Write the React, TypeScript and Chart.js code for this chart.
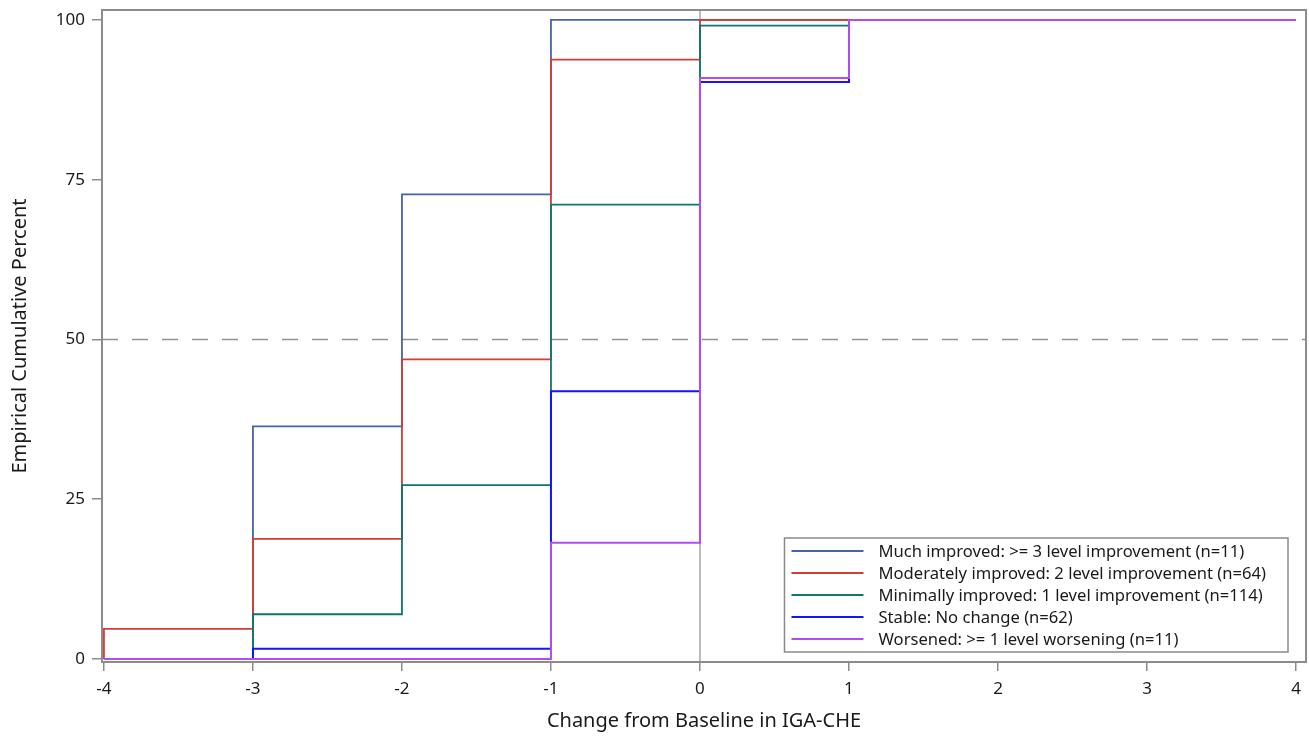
import React, { useEffect, useRef } from "react";
import { Chart, registerables } from "chart.js";

Chart.register(...registerables);

// ---- data ----
const changeValues = [-4, -3, -2, -1, 0, 1, 2, 3, 4];
const seriesLabels = [
  "Much improved: >= 3 level improvement (n=11)",
  "Moderately improved: 2 level improvement (n=64)",
  "Minimally improved: 1 level improvement (n=114)",
  "Stable: No change (n=62)",
  "Worsened: >= 1 level worsening (n=11)",
];
const muchImproved = [0, 36.4, 72.7, 100, 100, 100, 100, 100, 100];
const moderatelyImproved = [4.7, 18.8, 46.9, 93.8, 100, 100, 100, 100, 100];
const minimallyImproved = [0, 7.0, 27.2, 71.1, 99.1, 100, 100, 100, 100];
const stableNoChange = [0, 1.6, 1.6, 41.9, 90.3, 100, 100, 100, 100];
const worsenedSeries = [0, 0, 0, 18.2, 90.9, 100, 100, 100, 100];
const ecdfStart = 0;
const xTickValues = [-4, -3, -2, -1, 0, 1, 2, 3, 4];
const yTickValues = [0, 25, 50, 75, 100];
const referencePercent = 50;
const referenceChange = 0;
const xTitle = "Change from Baseline in IGA-CHE";
const yTitle = "Empirical Cumulative Percent";

const seriesColors = ["#4862ab", "#d23d36", "#0a786a", "#1414ff", "#b04cf2"];
const FONT = "'Noto Sans', 'DejaVu Sans', sans-serif";
const AXIS_GRAY = "#8c8c8c";

const allSeries = [muchImproved, moderatelyImproved, minimallyImproved, stableNoChange, worsenedSeries];

const framePlugin = {
  id: "frameAndRefs",
  beforeDatasetsDraw(chart: any) {
    const { ctx, chartArea, scales } = chart;
    ctx.save();
    const x0 = scales.x.getPixelForValue(referenceChange);
    ctx.strokeStyle = "#a6a6a6";
    ctx.lineWidth = 1.5;
    ctx.beginPath();
    ctx.moveTo(x0, chartArea.top);
    ctx.lineTo(x0, chartArea.bottom);
    ctx.stroke();
    const y50 = scales.y.getPixelForValue(referencePercent);
    ctx.strokeStyle = "#8e9494";
    ctx.setLineDash([16, 14]);
    ctx.beginPath();
    ctx.moveTo(chartArea.left, y50);
    ctx.lineTo(chartArea.right, y50);
    ctx.stroke();
    ctx.setLineDash([]);
    ctx.restore();
  },
  afterDraw(chart: any) {
    const { ctx, chartArea } = chart;
    ctx.save();
    ctx.strokeStyle = AXIS_GRAY;
    ctx.lineWidth = 2;
    ctx.strokeRect(chartArea.left, chartArea.top, chartArea.right - chartArea.left, chartArea.bottom - chartArea.top);

    ctx.font = `16.6px ${FONT}`;
    const datasets = chart.data.datasets;
    let maxW = 0;
    datasets.forEach((d: any) => {
      maxW = Math.max(maxW, ctx.measureText(d.label).width);
    });
    const rowH = 22;
    const padV = 13;
    const boxH = (datasets.length - 1) * rowH + padV * 2;
    const boxW = 94 + maxW + 22;
    const boxRight = chartArea.right - 18;
    const boxBottom = chartArea.bottom - 10;
    const boxLeft = boxRight - boxW;
    const boxTop = boxBottom - boxH;
    ctx.fillStyle = "#ffffff";
    ctx.fillRect(boxLeft, boxTop, boxW, boxH);
    ctx.strokeStyle = "#8a8a8a";
    ctx.lineWidth = 1.5;
    ctx.strokeRect(boxLeft, boxTop, boxW, boxH);
    ctx.textBaseline = "middle";
    ctx.textAlign = "left";
    datasets.forEach((d: any, i: number) => {
      const cy = boxTop + padV + i * rowH;
      ctx.strokeStyle = d.borderColor;
      ctx.lineWidth = 2;
      ctx.beginPath();
      ctx.moveTo(boxLeft + 7, cy);
      ctx.lineTo(boxLeft + 79, cy);
      ctx.stroke();
      ctx.fillStyle = "#1a1a1a";
      ctx.fillText(d.label, boxLeft + 94, cy + 1);
    });
    ctx.restore();
  },
};

export default function App() {
  const canvasRef = useRef<HTMLCanvasElement | null>(null);

  useEffect(() => {
    if (!canvasRef.current) return;
    const datasets = allSeries.map((vals, i) => ({
      label: seriesLabels[i],
      data: [{ x: changeValues[0], y: ecdfStart }, ...changeValues.map((x, j) => ({ x, y: vals[j] }))],
      borderColor: seriesColors[i],
      backgroundColor: seriesColors[i],
      borderWidth: i >= 3 ? 2 : 1.8,
      pointRadius: 0,
      stepped: "before" as const,
      fill: false,
      order: allSeries.length - i,
    }));

    const chart = new Chart(canvasRef.current, {
      type: "line",
      data: { datasets },
      plugins: [framePlugin],
      options: {
        animation: false,
        responsive: false,
        devicePixelRatio: 1,
        layout: { padding: { top: 10, right: 3, left: 0, bottom: 0 } },
        plugins: {
          legend: { display: false },
          tooltip: { enabled: false },
        },
        scales: {
          x: {
            type: "linear",
            min: -4.013,
            max: 4.067,
            afterBuildTicks: (scale: any) => {
              scale.ticks = xTickValues.map((v) => ({ value: v }));
            },
            afterFit: (scale: any) => {
              scale.height = 74;
            },
            border: { display: false },
            grid: {
              drawOnChartArea: false,
              drawTicks: true,
              tickLength: 9,
              color: AXIS_GRAY,
              lineWidth: 1.5,
            },
            ticks: {
              font: { family: FONT, size: 17 },
              color: "#1a1a1a",
              padding: 8,
              maxRotation: 0,
              callback: (v: any) => String(v),
            },
            title: {
              display: true,
              text: xTitle,
              font: { family: FONT, size: 20 },
              color: "#1a1a1a",
              padding: { top: 0, bottom: 3 },
            },
          },
          y: {
            type: "linear",
            min: -0.47,
            max: 101.56,
            afterBuildTicks: (scale: any) => {
              scale.ticks = yTickValues.map((v) => ({ value: v }));
            },
            afterFit: (scale: any) => {
              scale.width = 102;
              scale.paddingTop = 0;
              scale.paddingBottom = 0;
            },
            border: { display: false },
            grid: {
              drawOnChartArea: false,
              drawTicks: true,
              tickLength: 10,
              color: AXIS_GRAY,
              lineWidth: 1.5,
            },
            ticks: {
              font: { family: FONT, size: 17 },
              color: "#1a1a1a",
              padding: 7,
              callback: (v: any) => String(v),
            },
            title: {
              display: true,
              text: yTitle,
              font: { family: FONT, size: 20 },
              color: "#1a1a1a",
              padding: { top: 8, bottom: 0 },
            },
          },
        },
      },
    });
    return () => chart.destroy();
  }, []);

  return (
    <div style={{ position: "absolute", left: 0, top: 0, width: 1309, height: 736, background: "#fff" }}>
      <canvas ref={canvasRef} width={1309} height={736} style={{ display: "block" }} />
    </div>
  );
}
